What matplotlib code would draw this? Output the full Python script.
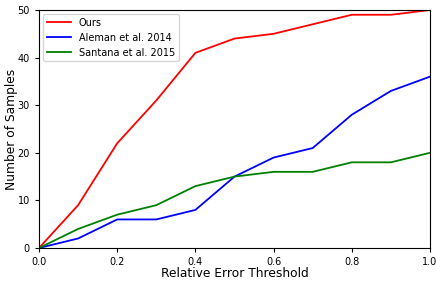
import matplotlib
matplotlib.use("Agg")
import matplotlib.pyplot as plt

thresholds = [0.0, 0.1, 0.2, 0.3, 0.4, 0.5, 0.6, 0.7, 0.8, 0.9, 1.0]
ours = [0, 9, 22, 31, 41, 44, 45, 47, 49, 49, 50]
aleman = [0, 2, 6, 6, 8, 15, 19, 21, 28, 33, 36]
santana = [0, 4, 7, 9, 13, 15, 16, 16, 18, 18, 20]

fig = plt.figure(figsize=(4.36, 2.81), dpi=100)
ax = fig.add_axes([39/436, 1-248/281, 391/436, 238/281])
ax.plot(thresholds, ours, color="red", lw=1.3, label="Ours")
ax.plot(thresholds, aleman, color="blue", lw=1.3, label="Aleman et al. 2014")
ax.plot(thresholds, santana, color="green", lw=1.3, label="Santana et al. 2015")
ax.set_xlim(0, 1)
ax.set_ylim(0, 50)
ax.set_xticks([0.0, 0.2, 0.4, 0.6, 0.8, 1.0])
ax.set_yticks([0, 10, 20, 30, 40, 50])
ax.tick_params(labelsize=7, length=3)
ax.set_xlabel("Relative Error Threshold", fontsize=8.8, labelpad=0)
ax.set_ylabel("Number of Samples", fontsize=8.8, labelpad=0)
ax.legend(loc="upper left", fontsize=7, handlelength=2.5, borderaxespad=0.4)
fig.savefig("out.png", dpi=100)
